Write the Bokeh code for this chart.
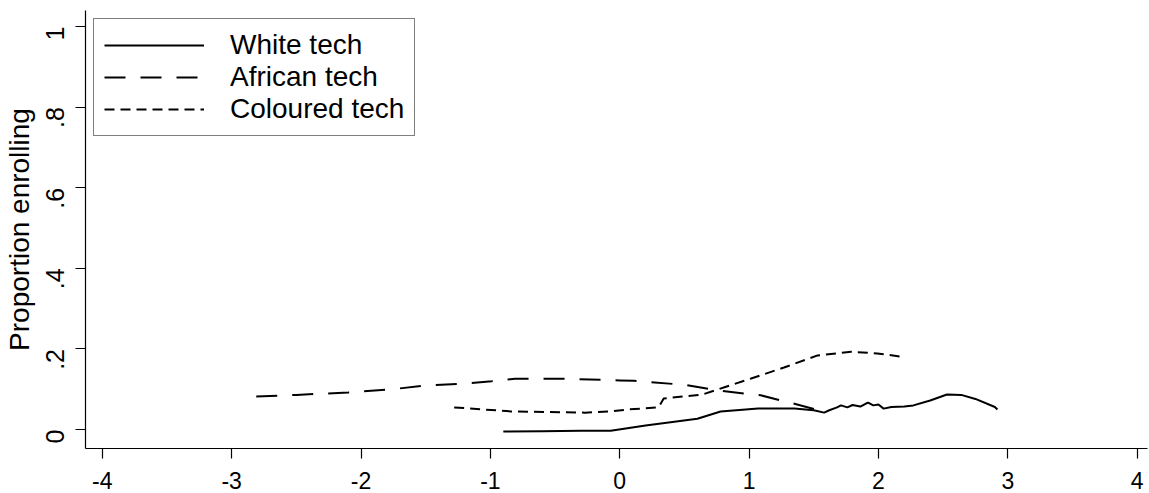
import math
from bokeh.plotting import figure
from bokeh.models import FixedTicker, Range1d, Legend, LegendItem
from bokeh.embed import file_html
from bokeh.resources import INLINE

# Data
white_x = [-0.90, -0.60, -0.30, -0.07, 0.20, 0.60, 0.78, 1.07, 1.35, 1.50, 1.58, 1.62, 1.68, 1.71, 1.76, 1.80, 1.86, 1.90, 1.92, 1.96, 2.00, 2.04, 2.10, 2.20, 2.27, 2.40, 2.53, 2.64, 2.75, 2.90, 2.92]
white_y = [-0.005, -0.004, -0.003, -0.003, 0.010, 0.027, 0.045, 0.052, 0.052, 0.048, 0.042, 0.048, 0.055, 0.060, 0.055, 0.061, 0.057, 0.064, 0.067, 0.060, 0.062, 0.052, 0.056, 0.057, 0.060, 0.072, 0.087, 0.086, 0.076, 0.056, 0.050]

african_x = [-2.81, -2.50, -2.10, -1.76, -1.51, -1.20, -0.99, -0.81, -0.40, 0.00, 0.11, 0.50, 0.76, 1.09, 1.35, 1.55, 1.60]
african_y = [0.082, 0.086, 0.092, 0.100, 0.109, 0.114, 0.120, 0.126, 0.126, 0.122, 0.121, 0.111, 0.097, 0.085, 0.064, 0.047, 0.045]

coloured_x = [-1.28, -0.84, -0.27, -0.07, 0.07, 0.30, 0.34, 0.55, 0.63, 0.81, 1.01, 1.27, 1.53, 1.79, 1.99, 2.20]
coloured_y = [0.055, 0.045, 0.042, 0.045, 0.050, 0.055, 0.077, 0.084, 0.086, 0.105, 0.126, 0.154, 0.184, 0.193, 0.189, 0.180]

x_ticks = [-4, -3, -2, -1, 0, 1, 2, 3, 4]
x_tick_labels = ["-4", "-3", "-2", "-1", "0", "1", "2", "3", "4"]
y_ticks = [0, 0.2, 0.4, 0.6, 0.8, 1.0]
y_tick_labels = ["0", ".2", ".4", ".6", ".8", "1"]
series_names = ["White tech", "African tech", "Coloured tech"]

FONT = "Liberation Sans"

p = figure(width=1149, height=493, output_backend="svg", toolbar_location=None,
           x_range=Range1d(-4.13, 4.08), y_range=Range1d(-0.047, 1.04),
           min_border_left=83, min_border_bottom=45, min_border_top=10, min_border_right=2)
p.outline_line_color = None
p.xgrid.visible = False
p.ygrid.visible = False
p.background_fill_color = "white"
p.border_fill_color = "white"

lw = 2
r1 = p.line(white_x, white_y, line_color="black", line_width=lw)
r2 = p.line(african_x, african_y, line_color="black", line_width=lw, line_dash="21 15")
r3 = p.line(coloured_x, coloured_y, line_color="black", line_width=lw, line_dash="10 6")

for ax in (p.xaxis[0], p.yaxis[0]):
    ax.axis_line_color = "black"
    ax.axis_line_width = 1.2
    ax.major_tick_line_color = "black"
    ax.major_tick_line_width = 1.2
    ax.major_tick_out = 10
    ax.major_tick_in = 0
    ax.minor_tick_line_color = None
    ax.major_label_text_font = FONT
    ax.major_label_text_color = "black"
    ax.axis_label_text_font = FONT
    ax.axis_label_text_font_style = "normal"
    ax.axis_label_text_color = "black"

p.xaxis[0].ticker = FixedTicker(ticks=x_ticks)
p.xaxis[0].major_label_overrides = {t: l for t, l in zip(x_ticks, x_tick_labels)}
p.xaxis[0].major_label_text_font_size = "23px"
p.xaxis[0].major_label_standoff = 13
p.yaxis[0].ticker = FixedTicker(ticks=y_ticks)
p.yaxis[0].major_label_overrides = {t: l for t, l in zip(y_ticks, y_tick_labels)}
p.yaxis[0].major_label_orientation = math.pi / 2
p.yaxis[0].major_label_text_font_size = "25px"
p.yaxis[0].major_label_standoff = 20
p.yaxis[0].axis_label = "Proportion enrolling"
p.yaxis[0].axis_label_text_font_size = "28px"
p.yaxis[0].axis_label_standoff = 0

legend = Legend(items=[LegendItem(label=n, renderers=[r]) for n, r in zip(series_names, [r1, r2, r3])],
                location="top_left", margin=8, padding=10, spacing=0,
                glyph_width=100, glyph_height=30, label_standoff=26,
                label_text_font=FONT, label_text_font_size="28px", label_text_color="black",
                border_line_color="black", border_line_width=1.2,
                background_fill_alpha=1.0)
p.add_layout(legend)

open("out.html", "w").write(file_html(p, INLINE))
